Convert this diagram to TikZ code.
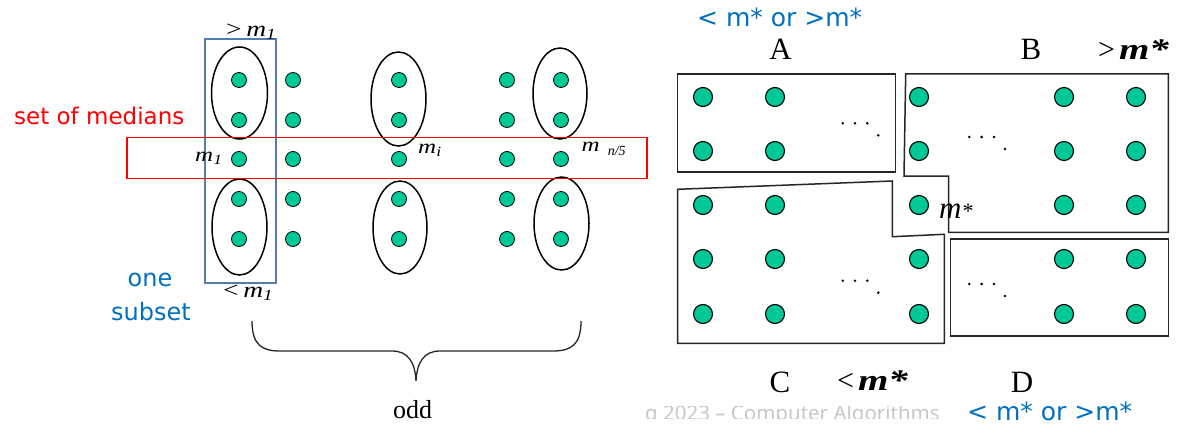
\documentclass[tikz,border=0pt]{standalone}
\usepackage{fontspec}
\usepackage{graphicx}
\setmainfont{Liberation Serif}
\newfontfamily\uisans{DejaVu Sans}
\newfontfamily\footsans{Noto Sans}
\usetikzlibrary{shapes.geometric}
\definecolor{dotgreen}{RGB}{0,200,150}
\definecolor{boxblue}{RGB}{84,125,175}
\definecolor{txtblue}{RGB}{0,112,192}
\definecolor{txtred}{RGB}{255,0,0}
\definecolor{footgray}{RGB}{200,200,200}
\newcommand{\wide}[1]{\scalebox{1.25}[1]{#1}}
\begin{document}
\begin{tikzpicture}[x=1pt,y=-1pt,
  ldot/.style={circle,draw=black,fill=dotgreen,line width=0.8pt,minimum size=15pt,inner sep=0pt},
  rdot/.style={circle,draw=black,fill=dotgreen,line width=1.1pt,minimum size=19pt,inner sep=0pt},
  grp/.style={ellipse,draw=black,line width=1.5pt,inner sep=0pt},
  part/.style={draw=black!85,line width=1.5pt,line join=miter},
  tinydot/.style={circle,fill=black,inner sep=0pt,minimum size=2.8pt},
  letter/.style={font=\fontsize{31}{36}\selectfont,anchor=base,inner sep=0pt},
  mlab/.style={font=\fontsize{20}{24}\selectfont\itshape,anchor=base west,inner sep=0pt},
  cmplab/.style={font=\fontsize{22}{26}\selectfont\itshape,anchor=base west,inner sep=0pt},
  bmlab/.style={font=\fontsize{30}{34}\selectfont\bfseries\itshape,anchor=base west,inner sep=0pt},
  note/.style={font=\uisans\fontsize{24}{28}\selectfont,anchor=base,inner sep=0pt},
  ornote/.style={text=txtblue,anchor=base west,inner sep=0pt,font=\uisans\fontsize{25}{28}\selectfont}
]
\useasboundingbox[fill=white] (0,0) rectangle (1186,433);

% ---------- left part ----------
\foreach \c/\x in {1/239,2/293,3/399,4/507,5/561}
  \foreach \r/\y in {1/80,2/120,3/159,4/199,5/239}
    \node[ldot] (l\c\r) at (\x,\y) {};

\node[grp,minimum width=56pt,minimum height=92pt] (e1t) at (239.5,93) {};
\node[grp,minimum width=55pt,minimum height=96pt] (e1b) at (239.5,227) {};
\node[grp,minimum width=55pt,minimum height=94pt] (e3t) at (398.5,99) {};
\node[grp,minimum width=54pt,minimum height=93pt] (e3b) at (400,227.5) {};
\node[grp,minimum width=54pt,minimum height=91pt] (e5t) at (560,93.5) {};
\node[grp,minimum width=55pt,minimum height=93pt] (e5b) at (561.5,223.5) {};

\draw[boxblue,line width=1.3pt] (205,39) rectangle (276,283);
\draw[txtred,line width=1.3pt] (127,137.5) rectangle (647,178.5);

\node[cmplab] (gtm1) at (226,36.5) {\wide{{\upshape >}\,m\textsubscript{1}}};
\node[cmplab] (ltm1) at (223,297) {\wide{{\upshape <}\,m\textsubscript{1}}};
\node[mlab] (m1) at (195,161.5) {\wide{m\textsubscript{1}}};
\node[mlab] (mi) at (418,153.3) {\wide{m\textsubscript{i}}};
\node[mlab] (mn5) at (581.5,151.7) {\wide{m}\hspace{8pt}\raisebox{-3.5pt}{\fontsize{14}{16}\selectfont n/5}};

\node[note,text=txtred,anchor=base west,font=\uisans\fontsize{23}{28}\selectfont] (medians) at (14,125) {set of medians};
\node[note,text=txtblue] (one) at (150,286.7) {one};
\node[note,text=txtblue] (subset) at (151,320) {subset};

\draw[black!85,line width=1.3pt] (252,321) .. controls (252,345) and (262,351) .. (280,351)
  -- (392,351) .. controls (408,351) and (415,362) .. (416,381)
  .. controls (417,362) and (424,351) .. (440,351)
  -- (553,351) .. controls (571,351) and (581,345) .. (581,321);
\node[font=\fontsize{26}{30}\selectfont,anchor=base,inner sep=0pt] (odd) at (412.5,418) {odd};

% ---------- right part ----------
\foreach \c/\x in {1/703,2/775,3/919,4/1064,5/1136}
  \foreach \r/\y in {1/97,2/151,3/205,4/259,5/314}
    \node[rdot] (r\c\r) at (\x,\y) {};

\draw[part] (677.7,74) rectangle (895.3,172);
\draw[part] (905.7,74) -- (1168.3,74) -- (1168.3,232.3) -- (948.7,232.3) -- (948.7,176) -- (904,176) -- cycle;
\draw[part] (677.7,189.3) -- (892.3,181) -- (892.3,236.7) -- (944.3,234.3) -- (944.3,343.3) -- (677.7,343.3) -- cycle;
\draw[part] (950.3,239) rectangle (1168.3,336);

\foreach \ex/\ey in {842.7/123.3, 969.3/137, 842.7/280.7, 969.3/284}{
  \foreach \k in {0,1,2}
    \node[tinydot] at (\ex+12.3*\k,\ey) {};
  \node[tinydot] at (\ex+35.6,\ey+12) {};
}

\node[font=\fontsize{31}{34}\selectfont\itshape,anchor=base west,inner sep=0pt] (mstar) at (939,218) {m{\fontsize{22}{24}\selectfont *}};

\node[letter] (A) at (780.5,60) {A};
\node[letter] (B) at (1031,60) {B};
\node[bmlab] (gtms) at (1098,60) {{\upshape\mdseries >}\kern4pt\scalebox{1.3}[1]{m*}};
\node[letter] (C) at (780,392) {C};
\node[bmlab] (ltms) at (837,390) {{\upshape\mdseries <}\kern4pt\scalebox{1.3}[1]{m*}};
\node[letter] (D) at (1022,392) {D};

\node[ornote] (orTop) at (697,26.7) {< m* or >m*};
\node[ornote] (orBot) at (967,420) {< m* or >m*};

\begin{scope}
  \clip (645,406.5) rectangle (950,418);
  \node[font=\footsans\fontsize{20.5}{22}\selectfont,text=footgray,anchor=base west,inner sep=0pt] (footer) at (645,420) {g 2023 – Computer Algorithms};
\end{scope}
\end{tikzpicture}
\end{document}
